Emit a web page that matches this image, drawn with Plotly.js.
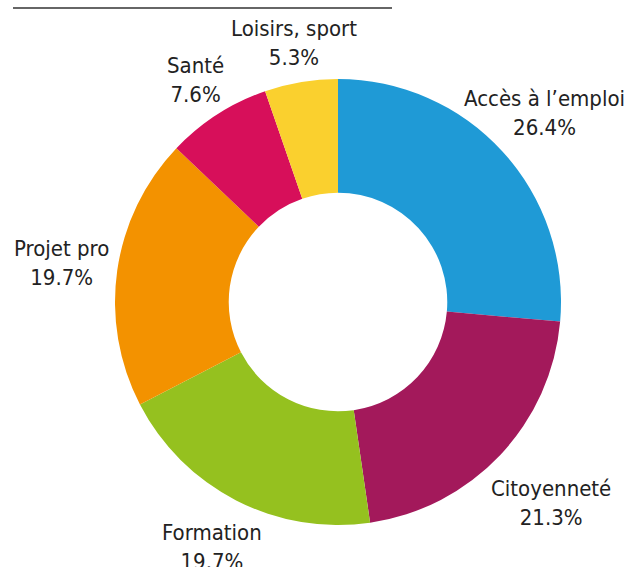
<!DOCTYPE html>
<html>
<head>
<meta charset="utf-8">
<script src="https://cdn.plot.ly/plotly-3.0.1.min.js"></script>
<style>html,body{margin:0;padding:0;background:#fff;}#chart{width:635px;height:567px;}</style>
</head>
<body>
<div id="chart"></div>
<script>
const categories = ["Accès à l’emploi", "Citoyenneté", "Formation", "Projet pro", "Santé", "Loisirs, sport"];
const values = [26.4, 21.3, 19.7, 19.7, 7.6, 5.3];
const colors = ["#1F9AD6", "#A3195B", "#95C11F", "#F39200", "#D70F5A", "#FAD02E"];

// layout constants (pixels)
const W = 635, H = 567;
const cx = 338, cy = 265, R = 223;
const labelDist = [280, 293, 275, 279, 264, 263];
const FONT = "'DejaVu Sans Condensed', 'Liberation Sans Narrow', Roboto, sans-serif";

const total = values.reduce((a, b) => a + b, 0);
let cum = 0;
const annotations = [];
values.forEach((v, i) => {
  const mid = (cum + v / 2) / total;
  cum += v;
  const ang = (90 - mid * 360) * Math.PI / 180;
  annotations.push({
    xref: 'paper', yref: 'paper',
    x: (cx + labelDist[i] * Math.cos(ang)) / W,
    y: (cy + labelDist[i] * Math.sin(ang)) / H,
    xanchor: 'center', yanchor: 'middle',
    text: categories[i] + '<br>' + (v / total * 100).toFixed(1) + '%',
    showarrow: false,
    font: {family: FONT, size: 22, color: '#222'}
  });
});

const data = [{
  type: 'pie',
  labels: categories,
  values: values,
  hole: 0.49,
  sort: false,
  direction: 'clockwise',
  rotation: 0,
  marker: {colors: colors, line: {width: 0}},
  textinfo: 'none',
  hoverinfo: 'label+percent',
  domain: {x: [(cx - R) / W, (cx + R) / W], y: [(cy - R) / H, (cy + R) / H]}
}];

const layout = {
  width: W, height: H,
  margin: {l: 0, r: 0, t: 0, b: 0},
  paper_bgcolor: '#fff',
  showlegend: false,
  annotations: annotations,
  shapes: [{
    type: 'line', xref: 'paper', yref: 'paper',
    x0: 13 / W, x1: 392 / W, y0: 1 - 8 / H, y1: 1 - 8 / H,
    line: {color: '#666', width: 2}
  }]
};

Plotly.newPlot('chart', data, layout, {displayModeBar: false, staticPlot: true});
</script>
</body>
</html>
